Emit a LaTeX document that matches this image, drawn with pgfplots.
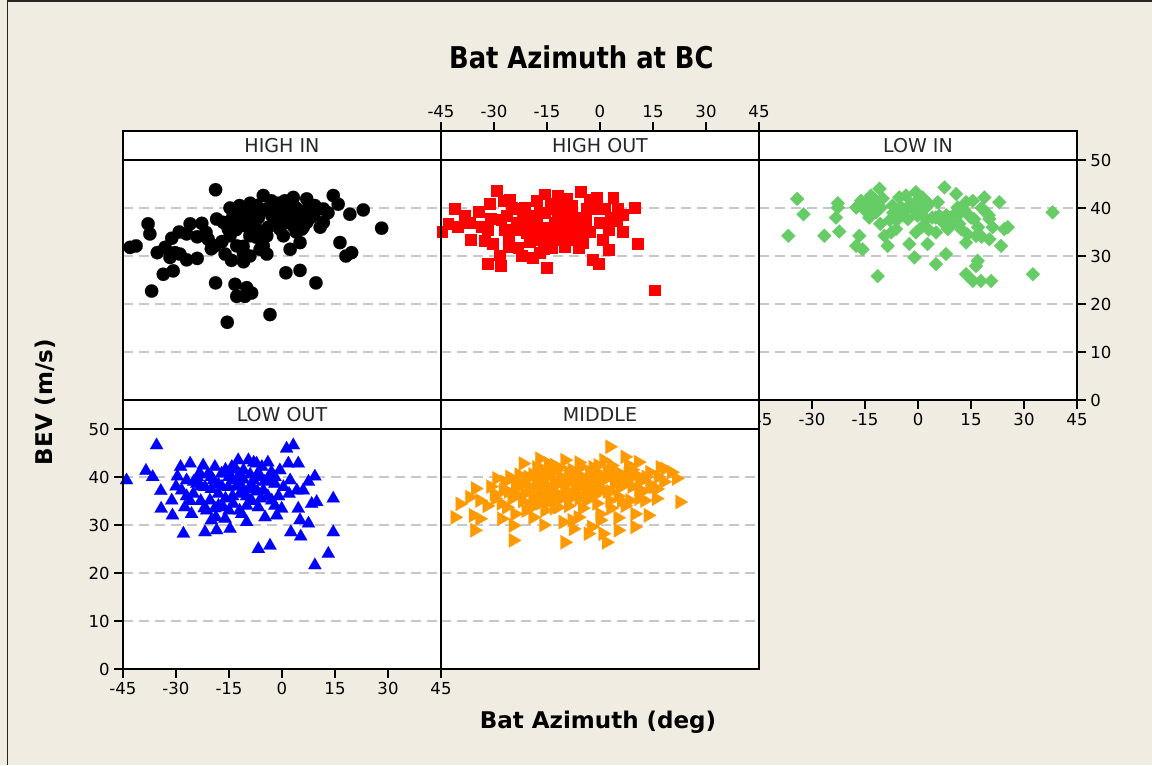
\documentclass[border=0pt]{standalone}
\usepackage{pgfplots}
\pgfplotsset{compat=1.18}
\usepackage{fontspec}
\setmainfont{DejaVu Sans}
\newfontfamily\titlefont[FakeStretch=0.86]{DejaVu Sans Bold}
\newfontfamily\boldfont{DejaVu Sans Bold}
\newcommand\tickfont{\fontsize{12.4}{14}\selectfont}
\newcommand\stripfont{\fontsize{14.3}{16}\selectfont}
\newcommand\labfont{\boldfont\fontsize{17.25}{20}\selectfont}
\definecolor{bg}{RGB}{240,236,226}
\definecolor{gridgray}{RGB}{200,200,200}
\definecolor{cred}{RGB}{255,0,0}
\definecolor{cgreen}{RGB}{102,204,102}
\definecolor{cblue}{RGB}{0,0,255}
\definecolor{corange}{RGB}{255,153,0}
\pgfplotsset{
  panel/.style={
    scale only axis, width=238.5pt, height=201.75pt,
    xmin=-45, xmax=45, ymin=0, ymax=56.04,
    anchor=south west,
    clip mode=individual,
    axis background/.style={fill=white},
    axis line style={line width=1.8pt, black},
    tick style={line width=1.8pt, black},
    major tick length=6.5pt,
    tick align=outside,
    xtick={-45,-30,-15,0,15,30,45},
    xticklabels={-45,-30,-15,0,15,30,45},
    ytick={0,10,20,30,40,50},
    yticklabels={0,10,20,30,40,50},
    ymajorgrids,
    major grid style={dash pattern=on 7.5pt off 4.5pt, line width=1.2pt, gridgray},
    ticklabel style={font=\tickfont, text=black},
    only marks,
  },
  noy/.style={ytick style={draw=none}, yticklabels={}},
  nox/.style={xtick=\empty},
}
\newcommand\strip[1]{%
  \draw[line width=1.8pt, black] (axis cs:-45,50) -- (axis cs:45,50);
  \draw[line width=1.8pt, black] (rel axis cs:0,0) rectangle (rel axis cs:1,1);
  \node[font=\stripfont, text=black!85] at (axis cs:0,53.0) {#1};}
\begin{document}
\begin{tikzpicture}
\fill[bg] (0,0) rectangle (864pt,-573.75pt);
\useasboundingbox (0,0) rectangle (864pt,-573.75pt);
\draw[line width=1.1pt, black!85] (5.6pt,-573.75pt) -- (5.6pt,-0.75pt) -- (864pt,-0.75pt);

% HIGH IN
\begin{axis}[panel, at={(92.25pt,-300pt)}, nox, noy]
\addplot[color=black, mark=*, mark size=5pt, mark options={fill=black, line width=0.1pt}] coordinates {
(-18.8,43.8)(-43.0,31.8)(-41.3,32.1)(-37.9,36.7)(-37.4,34.6)(-36.9,22.7)
(-35.3,30.7)(-33.1,31.8)(-31.2,33.7)(-29.1,35.0)(-27.0,34.6)(-26.0,36.7)
(-31.7,29.7)(-30.3,30.7)(-28.9,30.4)(-27.0,29.2)(-24.0,29.5)(-33.6,26.2)(-30.8,26.9)
(-22.7,36.8)(-21.5,34.9)(-20.9,33.5)(-19.0,32.1)(-18.8,24.4)
(-18.5,37.7)(-16.6,37.0)(-15.2,35.6)(-14.7,34.2)(-14.7,40.0)
(-16.1,30.4)(-14.3,29.1)(-12.8,32.1)
(-13.3,24.1)(-12.8,21.6)(-10.0,23.4)(-8.6,22.3)(-10.5,21.6)(-15.5,16.2)(-3.4,17.8)
(-12.4,38.7)(-10.9,39.4)(-9.5,38.4)(-8.6,37.3)(-7.6,36.3)(-6.7,38.0)(-10.5,36.3)
(-9.1,34.2)(-7.2,33.9)(-10.9,30.4)(-10.9,28.8)(-9.1,30.0)(-6.2,31.4)(-4.3,30.4)(-5.3,32.1)
(-7.2,40.5)(-5.3,42.6)(-4.3,39.8)(-2.9,38.4)(-3.9,36.0)(-4.3,34.2)
(-0.6,39.8)(0.8,41.5)(1.3,39.1)(3.2,42.2)(3.2,39.8)(-0.6,35.6)(0.4,34.2)(2.3,31.4)
(1.3,37.0)(3.2,36.3)(4.2,37.7)(5.6,35.6)(5.1,32.8)(6.5,38.4)(7.0,41.9)(7.5,40.1)
(9.3,40.5)(11.7,39.8)(10.8,36.0)(11.7,37.0)(1.1,26.5)(5.1,27.0)(9.6,24.4)
(14.5,42.6)(15.9,40.8)(19.2,38.7)(23.0,39.6)(28.2,35.8)(16.4,32.8)(18.1,30.0)(19.7,30.7)
(-12,37)(-8,39)(-2,40)(2,38)(6,36)(-6,35)(8,38)(4,40)(-1,41)(-14,38)(-11,32)(-20,31.5)
(-12,40.5)(-9,41)(-6,39.5)(-3,41.5)(0,38.5)(2,40.5)(5,39)(7,37)(9,38.5)(-13,35.5)
(-8,35.5)(-2,37)(4,35)(-17,33)(-24,34)(13,39)
};
\strip{HIGH IN}
\end{axis}

% HIGH OUT
\begin{axis}[panel, at={(330.75pt,-300pt)}, noy, xtick pos=right, xticklabel pos=right]
\addplot[color=cred, mark=square*, mark size=4.1pt, mark options={fill=cred, line width=0.1pt}] coordinates {
(-44.7,35.1)(-43.0,36.8)(-41.1,39.8)(-40.2,36.1)(-38.3,38.4)(-36.9,37.0)(-36.6,33.5)
(-34.3,39.3)(-33.6,36.1)(-32.6,33.2)(-31.7,35.6)(-31.2,41.0)(-30.9,37.8)(-30.3,32.5)
(-29.2,43.6)(-28.4,30.2)(-28.1,28.1)(-31.9,28.4)(-27.4,41.5)(-25.6,41.7)(-26.5,38.4)
(-27.0,35.6)(-26.0,34.2)(-24.1,39.8)(-23.7,37.0)(-23.2,31.8)(-22.3,30.0)(-21.3,40.1)
(-20.9,34.9)(-19.4,38.4)(-19.0,29.7)(-18.0,41.5)(-17.5,33.5)(-17.1,30.7)(-15.7,42.9)
(-15.7,39.1)(-15.2,27.6)(-14.7,35.6)(-13.8,31.8)(-13.3,39.8)(-11.9,42.6)(-11.9,37.3)
(-10.9,33.5)(-10.0,35.6)(-9.5,41.9)(-8.6,38.4)(-8.1,40.5)(-7.2,34.2)(-6.2,31.8)
(-5.5,43.5)(-5.3,36.3)(-4.8,32.8)(-3.9,39.8)(-2.9,41.7)(-2.0,39.8)(-1.0,42.2)
(-2.0,29.3)(-0.4,28.4)(1.3,39.8)(0.8,33.5)(2.3,35.6)(2.3,31.4)(3.7,42.2)(5.1,39.8)
(4.6,37.3)(6.5,38.7)(6.5,35.1)(9.8,40.1)(10.5,32.6)(15.5,22.9)
(-20,36)(-18,37.5)(-16,36)(-13,37)(-22,38)(-24,35.5)(-12,34)(-9,36.5)(-6,38)
(-11,40)(-15,33)(-19,35)(-8,33.5)
(-28,37.5)(-25,40)(-21,37)(-17,39)(-14,41)(-12,39)(-10,38)(-7,36.5)(-4,37.5)(-3,35)
(0,37)(-26,32)(-20,33)(-16,31.5)(-13,34.5)(-10,32)(-6,34.5)(-1,40)(3,38)
};
\strip{HIGH OUT}
\end{axis}

% LOW IN
\begin{axis}[panel, at={(569.25pt,-300pt)}, xtick pos=left, ytick pos=right, yticklabel pos=right]
\addplot[color=cgreen, mark=square*, mark size=3.7pt, mark options={fill=cgreen, line width=0.1pt, rotate=45}] coordinates {
(-36.7,34.2)(-34.2,41.9)(-32.4,38.7)(-26.5,34.2)(-22.7,41.0)(-22.7,40.1)(-23.2,38.0)
(-22.3,35.1)(-17.5,40.1)(-16.1,41.5)(-16.6,34.2)(-17.5,32.1)(-15.7,31.4)(-14.7,41.2)
(-13.8,38.0)(-13.3,42.6)(-12.4,40.8)(-11.9,39.1)(-10.9,44.0)(-10.5,40.1)(-10.7,36.7)
(-9.5,34.2)(-8.6,32.1)(-11.4,25.8)(-7.6,34.9)(-7.2,40.5)(-6.2,35.6)(-5.3,42.2)
(-4.3,39.8)(-3.9,38.4)(-2.9,37.7)(-2.45,32.5)(-3.4,42.6)(-2.0,40.8)(-1.0,39.4)
(-0.6,43.3)(-0.6,34.9)(-0.1,38.4)(-1.0,29.7)(1.3,42.2)(1.8,39.8)(2.3,37.7)(2.7,32.5)
(3.2,40.8)(5.1,34.9)(5.1,28.3)(5.6,41.2)(6.0,38.4)(7.0,37.0)(7.5,44.3)(7.9,30.4)
(8.4,35.6)(10.3,38.7)(10.8,42.9)(11.2,40.1)(11.7,36.7)(12.2,35.6)(13.6,41.2)(14.5,38.4)
(13.6,32.8)(15.5,41.5)(15.9,37.7)(16.4,34.2)(16.9,29.0)(16.4,27.9)(13.6,26.2)(15.5,24.8)
(17.8,24.8)(20.7,24.8)(18.8,42.2)(19.2,39.1)(20.2,37.7)(20.2,33.5)(21.1,36.0)(23.0,41.2)
(23.5,32.1)(24.4,35.6)(25.4,36.0)(32.5,26.2)(38.1,39.1)
(-1,41)(1,36)(-5,40)(4,38)(9,36.5)(12,39)(-12,41.5)(-8,37.5)(17,36)(-15,39.5)
(-14,40.5)(-10,42)(-7,39)(-3,40)(0,41.5)(2,40)(5,38)(8,38.5)(10,37)(13,39.5)
(15,38)(18,40)(20,38.5)(14,34.5)(18,34)(-6,37.5)(3,35.5)
};
\strip{LOW IN}
\end{axis}

% LOW OUT
\begin{axis}[panel, at={(92.25pt,-501.75pt)}, xtick pos=left, ytick pos=left]
\addplot[color=cblue, mark=triangle*, mark size=5.7pt, mark options={fill=cblue, line width=0.1pt}] coordinates {
(-44.0,39.3)(-35.5,46.6)(-38.5,41.3)(-36.6,40.0)(-34.3,37.1)(-34.2,33.4)(-31.2,35.1)
(-31.0,32.0)(-29.6,40.1)(-28.7,42.1)(-27.9,28.2)(-28.4,37.2)(-27.5,33.7)(-27.0,39.3)
(-26.0,42.8)(-25.6,32.3)(-25.1,36.5)(-24.1,38.6)(-23.2,40.7)(-22.3,42.4)(-21.8,37.9)
(-21.8,28.5)(-21.3,33.0)(-20.4,35.1)(-19.4,39.3)(-19.0,42.1)(-18.7,31.6)(-18.5,28.9)
(-18.0,36.5)(-17.1,40.7)(-16.6,33.7)(-16.1,31.3)(-15.2,37.9)(-14.7,29.2)(-14.2,42.1)
(-13.8,34.4)(-12.8,39.3)(-12.4,43.5)(-11.9,36.5)(-11.4,32.3)(-10.9,41.4)(-10.0,30.6)
(-9.5,43.5)(-9.1,37.9)(-8.6,35.1)(-8.1,39.3)(-7.2,42.8)(-6.7,33.7)(-6.7,25.0)(-5.7,42.1)
(-5.3,37.2)(-4.8,31.6)(-3.9,39.3)(-3.4,25.7)(-2.9,35.1)(-2.0,38.6)(-1.5,32.0)(-0.6,41.4)
(-0.1,33.4)(0.4,37.9)(1.3,45.9)(2.3,39.3)(1.8,42.8)(3.2,46.6)(2.5,28.5)(4.6,42.8)
(4.2,37.2)(4.6,33.4)(5.1,31.0)(5.3,27.6)(6.0,37.2)(7.5,30.3)(7.5,39.0)(8.4,34.4)
(9.3,40.1)(9.8,34.8)(9.3,21.6)(13.1,24.0)(14.5,35.5)(14.5,28.5)
(-13,38)(-10,36)(-16,35.5)(-7,37)(-20,37.5)(-12,40.5)(-23,35)(-4,36)
(-30,38)(-27,36)(-24,40)(-21,40.5)(-18,38.5)(-15,40)(-12,38.5)(-9,40.5)(-6,40)(-3,41)
(-1,36)(2,36.5)(-26,35)(-22,33.5)(-18,34)(-14,36)(-10,34)(-6,35.5)(-2,34)(-20,31)
(-15,33)(-11,39.5)(-8,43)(-4,43)
(-17,38)(-14,39.5)(-11,37.5)(-9,35)(-7,40.5)(-5,39)(-13,41.5)(-16,41.5)(-20,40)(-23,38)
(-19,33.5)(-12,33)(-8,37.5)(-2,40)(-25,39)
};
\strip{LOW OUT}
\end{axis}

% MIDDLE
\begin{axis}[panel, at={(330.75pt,-501.75pt)}, nox, noy]
\addplot[color=corange, mark=triangle*, mark size=6.2pt, mark options={fill=corange, line width=0.1pt, rotate=-90}] coordinates {
(-41.1,31.6)(-39.7,34.4)(-36.9,35.8)(-35.9,32.0)(-35.3,37.6)(-35.5,28.9)(-34.1,31.3)
(-34.1,35.1)(-29.8,35.5)(-29.3,39.7)(-27.9,31.3)(-27.4,37.2)(-26.5,33.7)(-25.6,40.0)
(-24.6,26.8)(-24.6,29.9)(-23.7,37.9)(-24.1,32.3)(-21.8,42.8)(-21.3,36.5)(-20.4,40.0)
(-19.4,33.7)(-19.0,31.6)(-18.0,37.9)(-17.1,43.8)(-16.6,40.3)(-16.1,35.1)(-15.7,33.0)
(-14.7,42.8)(-14.2,37.9)(-13.3,36.2)(-12.4,41.4)(-11.9,33.7)(-10.5,30.6)(-10.0,43.5)
(-9.5,38.6)(-10.0,26.4)(-8.6,35.5)(-7.6,40.7)(-7.6,29.2)(-6.2,31.6)(-5.75,37.9)
(-5.3,42.1)(-3.9,35.1)(-2.9,40.0)(-3.4,28.2)(-2.45,29.6)(-1.5,37.6)(-0.6,42.4)
(-0.1,32.3)(0.8,28.2)(1.8,39.7)(1.8,26.4)(2.7,35.1)(3.2,42.4)(5.1,28.9)(5.6,37.9)
(7.0,44.2)(7.9,40.7)(8.4,35.1)(9.8,32.3)(9.8,29.6)(10.8,43.1)(11.2,39.0)(12.6,35.1)
(13.6,32.0)(15.0,37.9)(15.9,35.5)(16.4,40.0)(18.3,41.7)(20.2,41.0)(21.6,39.7)(22.55,34.8)
(2.7,46.3)
(-18,39)(-15,40)(-12,38.5)(-8,39.5)(-4,38.5)(0,39)(4,38.5)(6,40)(-20,38)(-14,35)
(-10,36.5)(-6,35.5)(-2,36)(2,37)(-22,35)(-26,37)(-30,36.5)(-8,41.5)(-12,42)(9,38)
(12,37)(-17,36.5)(-1,41)(5,36)
(-32,34)(-28,34.5)(-25,35.5)(-22,38.5)(-19,40.5)(-16,38.5)(-14,41)(-11,40)(-9,37)(-7,38.5)
(-5,40)(-3,41)(0,40.5)(2,41.5)(4,40)(6,38)(8,39.5)(10,40.5)(12,39.5)(14,38.5)
(16,37.5)(18,39)(-20,34)(-17,34.5)(-13,33.5)(-9,34)(-5,33.5)(-1,34.5)(3,33.5)(7,34)
(11,35.5)(-23,40.5)(-18,42)(-6,43)(1,43.5)(-11,35.5)(-3,38)(-15,37)(-27,39)(-31,38)
(14,41)(17,42)(-8,31)(0,31)(5,31.5)(-16,30)
(-24,39)(-21,39.5)(-19,36)(-16,41.5)(-13,39.5)(-10,39)(-7,36.5)(-4,36.5)(-1,38)(1,39.5)
(3,40.5)(5,41)(7,39)(9,41.5)(11,37.5)(13,40)(-21,33)(-18,35.5)(-15,35)(-12,36.5)
(-9,41)(-6,39)(-3,39.5)(0,37)(3,37)(6,35)(-24,36.5)(-13,42.5)(-2,42)(8,42.5)
};
\strip{MIDDLE}
\end{axis}

\node[font=\titlefont\fontsize{22.5}{26}\selectfont] at (436pt,-42.75pt) {Bat Azimuth at BC};
\node[font=\labfont] at (448.5pt,-541.5pt) {Bat Azimuth (deg)};
\node[font=\labfont, rotate=90] at (33.75pt,-301.5pt) {BEV (m/s)};
\end{tikzpicture}
\end{document}
